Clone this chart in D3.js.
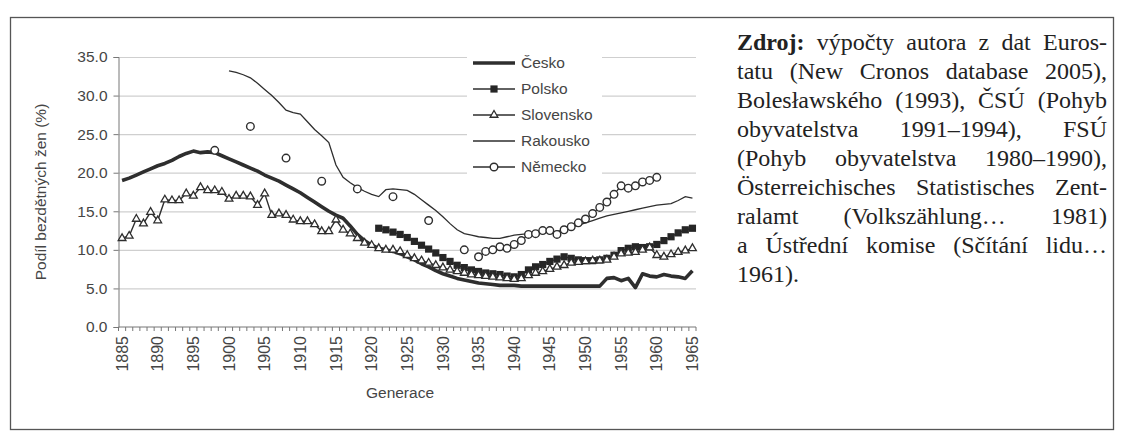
<!DOCTYPE html>
<html>
<head>
<meta charset="utf-8">
<script src="https://cdn.jsdelivr.net/npm/d3@7/dist/d3.min.js"></script>
<style>
  body { margin: 0; background: #fff; }
</style>
</head>
<body>
<div id="chart"></div>
<script>
// categories
const firstYear = 1885, lastYear = 1965;
const labelYears = [1885, 1890, 1895, 1900, 1905, 1910, 1915, 1920, 1925, 1930, 1935, 1940, 1945, 1950, 1955, 1960, 1965];
const yTicks = [0, 5, 10, 15, 20, 25, 30, 35];

// series (share of childless women, %)
const ceskoStart = 1885;
const cesko = [
  19.0, 19.3, 19.7, 20.1, 20.5, 20.9, 21.2, 21.6, 22.1, 22.5,
  22.8, 22.6, 22.7, 22.6, 22.2, 21.8, 21.4, 21.0, 20.6, 20.2,
  19.7, 19.3, 18.9, 18.4, 17.9, 17.4, 16.8, 16.2, 15.6, 15.0,
  14.5, 14.1, 13.1, 12.0, 11.2, 10.6, 10.2, 10.0, 9.8, 9.5,
  9.1, 8.7, 8.2, 7.8, 7.3, 6.9, 6.6, 6.3, 6.1, 5.9,
  5.7, 5.6, 5.5, 5.4, 5.4, 5.4, 5.3, 5.3, 5.3, 5.3,
  5.3, 5.3, 5.3, 5.3, 5.3, 5.3, 5.3, 5.3, 6.3, 6.4,
  6.0, 6.3, 5.1, 6.9, 6.6, 6.5, 6.8, 6.6, 6.5, 6.3,
  7.3
];
const polskoStart = 1921;
const polsko = [
  12.8, 12.6, 12.3, 12.0, 11.6, 11.1, 10.6, 10.1, 9.6, 9.0,
  8.5, 8.0, 7.7, 7.4, 7.2, 7.0, 6.9, 6.8, 6.6, 6.5,
  6.8, 7.4, 7.8, 8.1, 8.5, 8.8, 9.1, 8.9, 8.7, 8.6,
  8.6, 8.7, 8.9, 9.3, 9.9, 10.2, 10.4, 10.3, 10.4, 10.7,
  11.2, 11.7, 12.2, 12.6, 12.8
];
const slovenskoStart = 1885;
const slovensko = [
  11.5, 11.8, 14.0, 13.4, 14.9, 13.8, 16.5, 16.4, 16.4, 17.3,
  17.0, 18.1, 17.7, 17.7, 17.5, 16.6, 17.0, 17.0, 16.9, 15.8,
  17.3, 14.5, 14.7, 14.5, 13.9, 13.7, 13.7, 13.3, 12.4, 12.4,
  13.9, 12.6, 12.1, 11.5, 10.9, 10.6, 10.2, 10.0, 10.0, 9.8,
  9.3, 8.9, 8.6, 8.3, 8.0, 7.7, 7.4, 7.2, 7.0, 6.8,
  6.7, 6.6, 6.5, 6.4, 6.3, 6.2, 6.3, 6.7, 7.0, 7.2,
  7.5, 7.8, 8.0, 8.3, 8.4, 8.5, 8.6, 8.6, 8.7, 9.1,
  9.5, 9.6, 9.7, 10.0, 10.3, 9.3, 9.1, 9.4, 9.7, 9.9,
  10.2
];
const rakouskoStart = 1900;
const rakousko = [
  33.2, 33.0, 32.7, 32.3, 31.6, 30.8, 30.0, 29.1, 28.1, 27.8,
  27.6, 26.6, 25.6, 24.8, 23.9, 21.0, 19.4, 18.7, 18.1, 17.6,
  17.2, 16.9, 17.8, 17.9, 17.8, 17.7, 17.2, 16.5, 15.8, 15.1,
  14.3, 13.4, 12.6, 12.1, 11.9, 11.7, 11.6, 11.5, 11.5, 11.7,
  11.9, 12.0, 12.1, 12.2, 12.2, 12.3, 12.4, 12.6, 12.9, 13.2,
  13.5, 13.8, 14.1, 14.4, 14.6, 14.8, 15.0, 15.2, 15.4, 15.6,
  15.8, 15.9, 16.0, 16.4, 16.9, 16.7
];
// Německo: sparse early generations, then yearly
const nemeckoYears = [1898, 1903, 1908, 1913, 1918, 1923, 1928, 1933,
  1935, 1936, 1937, 1938, 1939, 1940, 1941, 1942, 1943, 1944, 1945, 1946, 1947,
  1948, 1949, 1950, 1951, 1952, 1953, 1954, 1955, 1956, 1957, 1958, 1959, 1960];
const nemecko = [22.9, 26.0, 21.9, 18.9, 17.9, 16.9, 13.8, 10.0,
  9.1, 9.8, 10.0, 10.4, 10.2, 10.7, 11.2, 12.0, 12.1, 12.5, 12.5, 12.0, 12.6,
  13.0, 13.5, 14.0, 14.7, 15.5, 16.2, 17.2, 18.3, 18.0, 18.3, 18.8, 19.0, 19.4];

const legendNames = ["Česko", "Polsko", "Slovensko", "Rakousko", "Německo"];

const sourceLines = [
  "Zdroj: výpočty autora z dat Euros-",
  "tatu (New Cronos database 2005),",
  "Bolesławského (1993), ČSÚ (Pohyb",
  "obyvatelstva 1991–1994), FSÚ",
  "(Pohyb obyvatelstva 1980–1990),",
  "Österreichisches Statistisches Zent-",
  "ralamt (Volkszählung… 1981)",
  "a Ústřední komise (Sčítání lidu…",
  "1961)."
];

// ---- drawing ----
const width = 1122, height = 437;
const ink = "#2e2e2e", textCol = "#454545";
const font = "'Liberation Sans', Arial, sans-serif";
const serif = "'Liberation Serif', 'Times New Roman', serif";

const svg = d3.select("#chart")
  .append("svg")
    .attr("width", width)
    .attr("height", height)
    .style("font-family", font);

// outer frame of the figure
svg.append("rect")
  .attr("x", 10.5).attr("y", 17.5)
  .attr("width", 1103).attr("height", 412)
  .attr("fill", "none").attr("stroke", "#555").attr("stroke-width", 1.3);

const years = d3.range(firstYear, lastYear + 1);
const x = d3.scaleBand().domain(years).range([118.5, 696]);
const y = d3.scaleLinear().domain([0, 35]).range([327, 57]);
const cx = yr => x(yr) + x.bandwidth() / 2;

const toPoints = (start, vals) => vals.map((v, i) => ({year: start + i, value: v}));

// gridlines
svg.append("g")
  .selectAll("line")
  .data(yTicks.filter(d => d > 0))
  .join("line")
    .attr("x1", x.range()[0]).attr("x2", x.range()[1])
    .attr("y1", d => y(d) + 0.5).attr("y2", d => y(d) + 0.5)
    .attr("stroke", "#cfcfcf").attr("stroke-width", 1.2);

// y axis
const yAxis = svg.append("g")
  .attr("transform", `translate(${x.range()[0]},0)`)
  .call(d3.axisLeft(y).tickValues(yTicks).tickFormat(d3.format(".1f")).tickSize(5).tickPadding(6));
yAxis.select(".domain").attr("stroke", "#777");
yAxis.selectAll(".tick line").attr("stroke", "#777");
yAxis.selectAll("text").attr("fill", textCol).style("font-size", "15.5px").style("font-family", font);

// x axis: ticks between categories, labels every 5 years
const xg = svg.append("g").attr("transform", `translate(0,${y(0)})`);
xg.append("line")
  .attr("x1", x.range()[0]).attr("x2", x.range()[1])
  .attr("stroke", "#777");
xg.selectAll(".tk")
  .data(years.concat([lastYear + 1]))
  .join("line")
    .attr("class", "tk")
    .attr("x1", d => d > lastYear ? x.range()[1] : x(d))
    .attr("x2", d => d > lastYear ? x.range()[1] : x(d))
    .attr("y1", 0).attr("y2", 4)
    .attr("stroke", "#777");
xg.selectAll(".lbl")
  .data(labelYears)
  .join("text")
    .attr("class", "lbl")
    .attr("transform", d => `translate(${cx(d)},9) rotate(-90)`)
    .attr("dy", "0.35em")
    .attr("text-anchor", "end")
    .attr("fill", textCol)
    .style("font-size", "16px")
    .text(d => d);

// axis titles
svg.append("text")
  .attr("transform", `translate(46,${(y(0) + y(35)) / 2}) rotate(-90)`)
  .attr("text-anchor", "middle")
  .attr("fill", textCol)
  .style("font-size", "15.5px")
  .text("Podíl bezdětných žen (%)");
svg.append("text")
  .attr("x", 400).attr("y", 398)
  .attr("text-anchor", "middle")
  .attr("fill", textCol)
  .style("font-size", "15.5px")
  .text("Generace");

const line = d3.line().x(d => cx(d.year)).y(d => y(d.value));

// Česko – thick line
svg.append("path")
  .datum(toPoints(ceskoStart, cesko))
  .attr("d", line)
  .attr("fill", "none").attr("stroke", ink).attr("stroke-width", 3.6)
  .attr("stroke-linejoin", "round");

// Polsko – line with filled squares
const polskoPts = toPoints(polskoStart, polsko);
svg.append("path")
  .datum(polskoPts)
  .attr("d", line)
  .attr("fill", "none").attr("stroke", ink).attr("stroke-width", 1.4);
svg.append("g")
  .selectAll("rect")
  .data(polskoPts)
  .join("rect")
    .attr("x", d => cx(d.year) - 3.6).attr("y", d => y(d.value) - 3.6)
    .attr("width", 7.2).attr("height", 7.2)
    .attr("fill", "#262626");

// Slovensko – line with open triangles
const slovenskoPts = toPoints(slovenskoStart, slovensko);
const tri = d3.symbol().type(d3.symbolTriangle).size(26);
svg.append("path")
  .datum(slovenskoPts)
  .attr("d", line)
  .attr("fill", "none").attr("stroke", ink).attr("stroke-width", 1.4);
svg.append("g")
  .selectAll("path")
  .data(slovenskoPts)
  .join("path")
    .attr("d", tri)
    .attr("transform", d => `translate(${cx(d.year)},${y(d.value)})`)
    .attr("fill", "#fff").attr("stroke", ink).attr("stroke-width", 1.3);

// Rakousko – thin line
svg.append("path")
  .datum(toPoints(rakouskoStart, rakousko))
  .attr("d", line)
  .attr("fill", "none").attr("stroke", ink).attr("stroke-width", 1.3);

// Německo – open circles, joined only for consecutive generations
const nemeckoPts = nemeckoYears.map((yr, i) => ({year: yr, value: nemecko[i]}));
const segs = [];
nemeckoPts.forEach((d, i) => {
  if (i > 0 && d.year - nemeckoPts[i - 1].year === 1) segs[segs.length - 1].push(d);
  else segs.push([d]);
});
svg.append("g")
  .selectAll("path")
  .data(segs.filter(s => s.length > 1))
  .join("path")
    .attr("d", line)
    .attr("fill", "none").attr("stroke", ink).attr("stroke-width", 1.3);
svg.append("g")
  .selectAll("circle")
  .data(nemeckoPts)
  .join("circle")
    .attr("cx", d => cx(d.year)).attr("cy", d => y(d.value))
    .attr("r", 3.8)
    .attr("fill", "#fff").attr("stroke", ink).attr("stroke-width", 1.4);

// legend
const legend = svg.append("g");
legend.append("rect")
  .attr("x", 467).attr("y", 50).attr("width", 135).attr("height", 130)
  .attr("fill", "#fff");
const rows = legend.selectAll("g")
  .data(legendNames)
  .join("g")
    .attr("transform", (d, i) => `translate(473,${63 + i * 26})`);
rows.append("line")
  .attr("x1", 0).attr("x2", 42)
  .attr("stroke", ink)
  .attr("stroke-width", (d, i) => i === 0 ? 3.6 : 1.3);
rows.filter((d, i) => i === 1).append("rect")
  .attr("x", 17.4).attr("y", -3.6).attr("width", 7.2).attr("height", 7.2).attr("fill", "#262626");
rows.filter((d, i) => i === 2).append("path")
  .attr("d", tri).attr("transform", "translate(21,0)")
  .attr("fill", "#fff").attr("stroke", ink).attr("stroke-width", 1.3);
rows.filter((d, i) => i === 4).append("circle")
  .attr("cx", 21).attr("r", 3.8)
  .attr("fill", "#fff").attr("stroke", ink).attr("stroke-width", 1.4);
rows.append("text")
  .attr("x", 48).attr("dy", "0.35em")
  .attr("fill", textCol)
  .style("font-size", "15.5px")
  .text(d => d);

// source note, justified; font size fitted so the widest line fills the column
const srcX0 = 737, srcX1 = 1107;
const probe = svg.append("text").style("font-family", serif).style("font-size", "20px");
const natural = sourceLines.slice(0, -1).map(ln => probe.text(ln).node().getComputedTextLength());
probe.remove();
const srcSize = Math.min(24, 20 * (srcX1 - srcX0) / d3.max(natural));

sourceLines.forEach((ln, i) => {
  const words = ln.split(" ");
  const yy = 50 + i * 29;
  const nodes = words.map((w, j) => svg.append("text")
    .attr("y", yy)
    .attr("fill", "#222")
    .style("font-family", serif)
    .style("font-size", srcSize + "px")
    .style("font-weight", i === 0 && j === 0 ? "bold" : null)
    .text(w));
  const widths = nodes.map(n => n.node().getComputedTextLength());
  const total = d3.sum(widths);
  const last = i === sourceLines.length - 1;
  const gap = last || words.length < 2 ? srcSize * 0.25 : (srcX1 - srcX0 - total) / (words.length - 1);
  let pos = srcX0;
  nodes.forEach((n, j) => { n.attr("x", pos); pos += widths[j] + gap; });
});
</script>
</body>
</html>
